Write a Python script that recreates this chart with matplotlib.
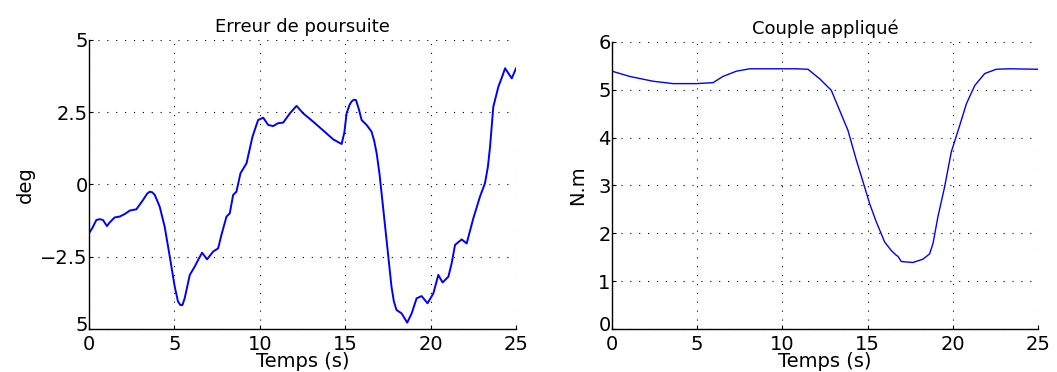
import numpy as np
import matplotlib.pyplot as plt
from matplotlib.transforms import ScaledTranslation

# tracking error (deg)
t_err = [0.0, 0.2, 0.43, 0.63, 0.82, 1.05, 1.2, 1.5, 1.8, 2.1, 2.4, 2.77, 3.16,
         3.4, 3.55, 3.7, 3.85, 4.14, 4.43, 4.73, 5.02, 5.21, 5.35, 5.47, 5.6,
         5.9, 6.19, 6.39, 6.62, 6.91, 7.27, 7.56, 7.75, 8.05, 8.24, 8.44, 8.63,
         8.87, 9.22, 9.57, 9.9, 10.2, 10.49, 10.78, 11.07, 11.37, 11.76, 12.15,
         12.54, 13.13, 13.9, 14.3, 14.79, 14.95, 15.08, 15.25, 15.37, 15.5, 15.63,
         15.8, 15.96, 16.25, 16.54, 16.7, 16.84, 17.0, 17.13, 17.42, 17.71,
         17.85, 18.0, 18.3, 18.63, 18.89, 19.18, 19.47, 19.82, 20.16, 20.45,
         20.7, 21.04, 21.23, 21.43, 21.82, 22.11, 22.5, 22.89, 23.18, 23.35,
         23.48, 23.67, 23.97, 24.2, 24.36, 24.55, 24.75, 25.0]
err = [-1.69, -1.5, -1.23, -1.2, -1.23, -1.44, -1.32, -1.14, -1.11, -1.02,
       -0.9, -0.86, -0.54, -0.32, -0.25, -0.27, -0.36, -0.77, -1.46, -2.5,
       -3.54, -4.05, -4.17, -4.17, -3.94, -3.13, -2.84, -2.61, -2.36, -2.59,
       -2.32, -2.21, -1.75, -1.11, -1.0, -0.36, -0.25, 0.39, 0.73, 1.65, 2.23,
       2.31, 2.06, 2.02, 2.12, 2.14, 2.46, 2.72, 2.46, 2.17, 1.77, 1.56, 1.40,
       1.8, 2.46, 2.75, 2.87, 2.93, 2.92, 2.6, 2.23, 2.06, 1.83, 1.5, 1.08,
       0.4, -0.31, -1.92, -3.54, -4.05, -4.34, -4.46, -4.78, -4.46, -3.94,
       -3.86, -4.11, -3.77, -3.13, -3.39, -3.19, -2.73, -2.09, -1.9, -2.04,
       -1.17, -0.42, 0.04, 0.6, 1.31, 2.69, 3.39, 3.75, 4.02, 3.85, 3.67, 4.02]

# applied torque (N.m)
t_cpl = [0.0, 1.04, 2.4, 3.58, 4.95, 5.93, 6.51, 7.3, 8.08, 10.82, 11.5, 12.19,
         12.87, 13.36, 13.85, 14.34, 14.73, 15.12, 15.51, 16.0, 16.39, 16.69,
         16.78, 16.98, 17.66, 18.25, 18.64, 18.84, 19.13, 19.52, 19.91, 20.41,
         20.8, 21.29, 21.87, 22.55, 23.34, 25.0]
cpl = [5.39, 5.28, 5.18, 5.13, 5.13, 5.15, 5.28, 5.39, 5.44, 5.44, 5.43, 5.23,
       4.99, 4.57, 4.15, 3.53, 3.08, 2.62, 2.24, 1.82, 1.64, 1.54, 1.52, 1.41,
       1.39, 1.46, 1.57, 1.79, 2.35, 2.97, 3.70, 4.26, 4.71, 5.09, 5.34, 5.43,
       5.44, 5.43]

xticks = [0, 5, 10, 15, 20, 25]
err_ticks = [-5, -2.5, 0, 2.5, 5]
err_labels = ["5", "\u22122.5", "0", "2.5", "5"]
cpl_ticks = [0, 1, 2, 3, 4, 5, 6]

plt.rcParams["font.family"] = "DejaVu Sans"
fs = 14

fig = plt.figure(figsize=(10.57, 3.72), dpi=100)
ax1 = fig.add_axes([0.0842, 0.1156, 0.404, 0.777])
ax2 = fig.add_axes([0.579, 0.1156, 0.403, 0.7715])


def style(ax):
    for s in ("top", "right"):
        ax.spines[s].set_visible(False)
    ax.spines["left"].set_linewidth(1.0)
    ax.spines["bottom"].set_linewidth(1.0)
    ax.grid(True, color="black", linestyle=(0, (1, 7)), linewidth=0.8)
    ax.tick_params(direction="in", length=3, labelsize=fs)
    ax.tick_params(axis="y", pad=1)
    ax.tick_params(axis="x", pad=4)
    ax.set_xlim(0, 25)
    ax.set_xticks(xticks)
    ax.set_xlabel("Temps (s)", fontsize=fs, labelpad=-1)
    # lift the lowest y label a little, it sits just above the x "0"
    lab = ax.get_yticklabels()[0]
    lab.set_transform(lab.get_transform() + ScaledTranslation(0, 4 / 72, fig.dpi_scale_trans))


ax1.plot(t_err, err, color="#0000ff", lw=1.4)
ax1.set_ylim(-5, 5)
ax1.set_yticks(err_ticks)
ax1.set_yticklabels(err_labels)
style(ax1)
ax1.set_ylabel("deg", fontsize=fs)
ax1.set_title("Erreur de poursuite", fontsize=fs - 1, pad=6)

ax2.plot(t_cpl, cpl, color="#0000ff", lw=1.0)
ax2.set_ylim(0, 6)
ax2.set_yticks(cpl_ticks)
style(ax2)
ax2.set_ylabel("N.m", fontsize=fs, labelpad=8)
ax2.set_title("Couple appliqué", fontsize=fs - 1, pad=6)

fig.savefig("out.png", dpi=100)
